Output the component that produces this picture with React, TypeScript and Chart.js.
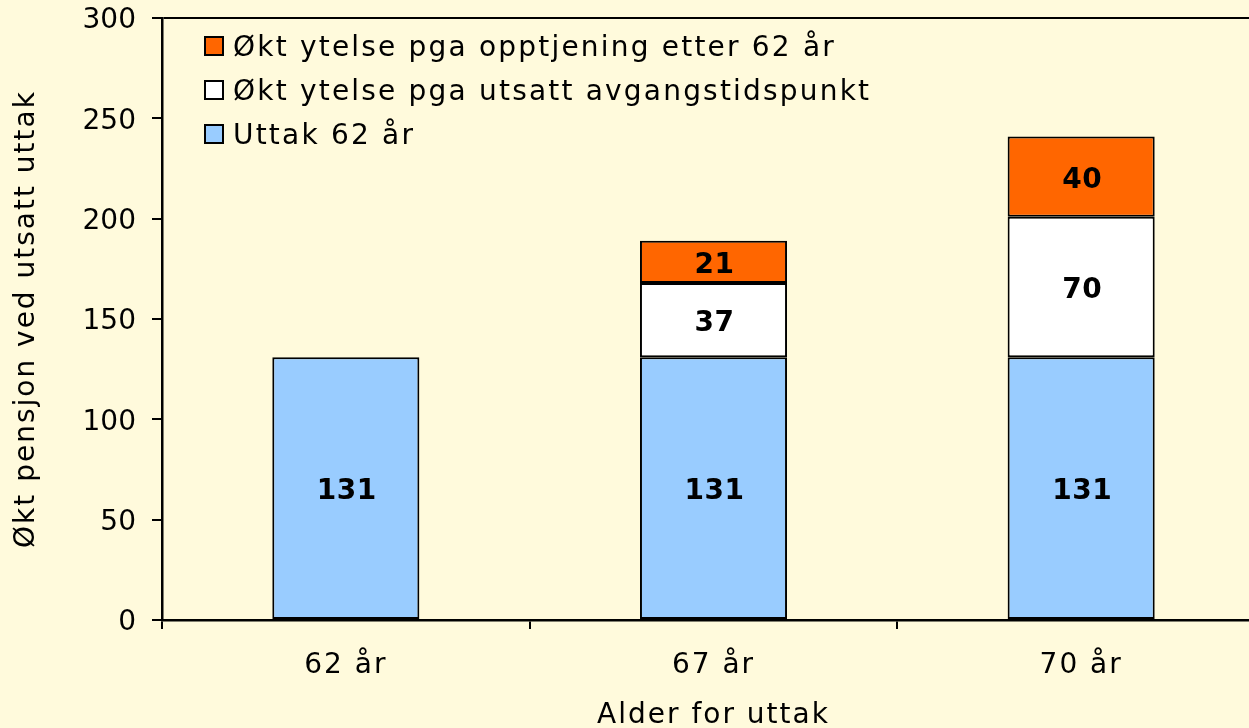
import React, { useEffect, useRef } from "react";
import { Chart, registerables } from "chart.js";

Chart.register(...registerables);

const categories = ["62 år", "67 år", "70 år"];
const seriesNames = [
  "Uttak 62 år",
  "Økt ytelse pga utsatt avgangstidspunkt",
  "Økt ytelse pga opptjening etter 62 år",
];
const uttak62 = [131, 131, 131];
const utsattAvgang = [null, 37, 70];
const opptjening = [null, 21, 40];
const seriesColors = ["#99CCFF", "#FFFFFF", "#FF6600"];
const yTicks = [0, 50, 100, 150, 200, 250, 300];

const BG = "#FFFADC";
const FONT = "'DejaVu Sans', Verdana, sans-serif";
const TEXT_SPACING = "2px";

const bgPlugin = {
  id: "bg",
  beforeDraw(chart: any) {
    const ctx = chart.ctx;
    ctx.save();
    ctx.fillStyle = BG;
    ctx.fillRect(0, 0, chart.width, chart.height);
    ctx.restore();
    (ctx as any).letterSpacing = TEXT_SPACING;
    const y = chart.scales.y;
    if (y && !y.__patched) {
      const orig = y.drawLabels.bind(y);
      y.drawLabels = (area: any) => {
        (ctx as any).letterSpacing = "0px";
        orig(area);
        (ctx as any).letterSpacing = TEXT_SPACING;
      };
      y.__patched = true;
    }
  },
};

const labelPlugin = {
  id: "barLabels",
  afterDatasetsDraw(chart: any) {
    const ctx = chart.ctx;
    ctx.save();
    ctx.fillStyle = "#000";
    ctx.font = `bold 28px ${FONT}`;
    ctx.textAlign = "center";
    ctx.textBaseline = "middle";
    (ctx as any).letterSpacing = "0.5px";
    chart.data.datasets.forEach((ds: any, di: number) => {
      const meta = chart.getDatasetMeta(di);
      meta.data.forEach((el: any, i: number) => {
        const v = ds.data[i];
        if (v == null) return;
        ctx.fillText(String(v), el.x + 1, (el.y + el.base) / 2 + 4);
      });
    });
    ctx.restore();
  },
};

const legendPlugin = {
  id: "customLegend",
  afterDraw(chart: any) {
    const ctx = chart.ctx;
    ctx.save();
    ctx.font = `28px ${FONT}`;
    ctx.textBaseline = "middle";
    ctx.textAlign = "left";
    (ctx as any).letterSpacing = "2.2px";
    const ds = chart.data.datasets.slice().reverse();
    ds.forEach((d: any, i: number) => {
      const cy = 46 + i * 44;
      ctx.fillStyle = d.backgroundColor;
      ctx.fillRect(205, cy - 9, 18, 18);
      ctx.strokeStyle = "#000";
      ctx.lineWidth = 2;
      ctx.strokeRect(205, cy - 9, 18, 18);
      ctx.fillStyle = "#000";
      ctx.fillText(d.label, 233, cy + 3);
    });
    ctx.restore();
  },
};

export default function App() {
  const ref = useRef<HTMLCanvasElement>(null);
  useEffect(() => {
    document.body.style.margin = "0";
    document.body.style.background = BG;
    const datasets = [uttak62, utsattAvgang, opptjening].map((d, i) => ({
      label: seriesNames[i],
      data: d,
      backgroundColor: seriesColors[i],
      borderColor: "#000",
      borderWidth: 2,
      borderSkipped: false,
      barPercentage: 0.4,
      categoryPercentage: 1,
    }));
    const chart = new Chart(ref.current!, {
      type: "bar",
      data: { labels: categories, datasets },
      plugins: [bgPlugin, labelPlugin, legendPlugin],
      options: {
        responsive: false,
        animation: false,
        layout: { padding: { top: 18, right: 15, left: 0, bottom: 0 } },
        plugins: { legend: { display: false }, tooltip: { enabled: false } },
        scales: {
          x: {
            stacked: true,
            border: { display: true, color: "#000", width: 2.5 },
            grid: {
              offset: true,
              drawOnChartArea: false,
              color: "#000",
              tickColor: "#000",
              tickLength: 9,
              lineWidth: 2,
            },
            ticks: {
              color: "#000",
              font: { family: FONT, size: 28 },
              padding: 20,
            },
            title: {
              display: true,
              text: "Alder for uttak",
              color: "#000",
              font: { family: FONT, size: 28 },
              padding: { top: 9, bottom: -5 },
            },
            afterFit(scale: any) {
              scale.height = 108;
              scale.paddingLeft = 0;
              scale.paddingRight = 0;
            },
          },
          y: {
            stacked: true,
            min: 0,
            max: 300,
            afterBuildTicks(scale: any) {
              scale.ticks = yTicks.map((v) => ({ value: v }));
            },
            border: { display: true, color: "#000", width: 2.5 },
            grid: {
              color: (c: any) =>
                c.tick && c.tick.value === 300 ? "#000" : "rgba(0,0,0,0)",
              tickColor: "#000",
              tickLength: 10,
              lineWidth: 2,
            },
            ticks: {
              color: "#000",
              font: { family: FONT, size: 28 },
              padding: 16,
              labelOffset: 3,
            },
            title: {
              display: true,
              text: "Økt pensjon ved utsatt uttak",
              color: "#000",
              font: { family: FONT, size: 28 },
              padding: { top: 10, bottom: 0 },
            },
            afterFit(scale: any) {
              scale.width = 162;
              scale.paddingTop = 0;
              scale.paddingBottom = 0;
            },
          },
        },
      },
    } as any);
    return () => chart.destroy();
  }, []);
  return (
    <div
      style={{
        position: "fixed",
        left: 0,
        top: 0,
        width: 1249,
        height: 728,
        overflow: "hidden",
        background: BG,
      }}
    >
      <canvas ref={ref} width={1280} height={728} style={{ display: "block" }} />
    </div>
  );
}
